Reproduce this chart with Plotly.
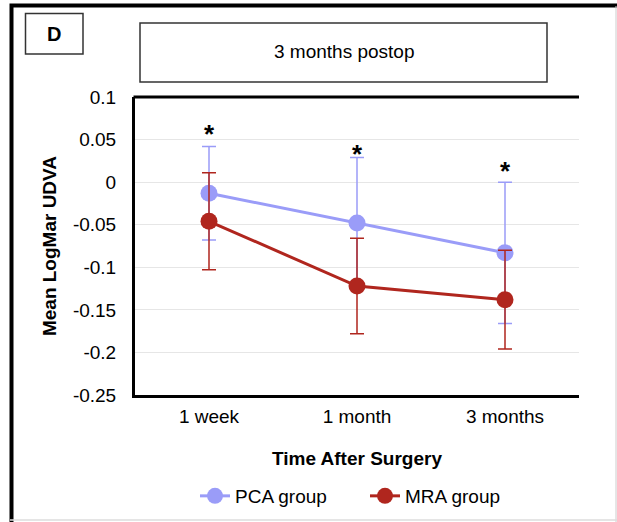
import plotly.graph_objects as go

# ---- data ----
time_points = ["1 week", "1 month", "3 months"]
pca_mean = [-0.013, -0.048, -0.083]
pca_sd = [0.055, 0.077, 0.083]
mra_mean = [-0.046, -0.122, -0.138]
mra_sd = [0.057, 0.056, 0.058]
sig_label_y = [0.062, 0.039, 0.019]
y_ticks = [0.1, 0.05, 0, -0.05, -0.1, -0.15, -0.2, -0.25]
y_tick_labels = ["0.1", "0.05", "0", "-0.05", "-0.1", "-0.15", "-0.2", "-0.25"]

PCA_COLOR = "#9a9cf8"
MRA_COLOR = "#b0261e"
FONT = "Liberation Sans, Arial, sans-serif"

W, H = 617, 522
PLOT_L, PLOT_R, PLOT_T, PLOT_B = 135, 579, 97, 395


def px(x):
    return x / W


def py(y):
    return 1 - y / H


fig = go.Figure()

fig.add_trace(go.Scatter(
    x=time_points, y=pca_mean, name="PCA group", mode="lines+markers",
    line=dict(color=PCA_COLOR, width=3),
    marker=dict(color=PCA_COLOR, size=17),
    error_y=dict(type="data", array=pca_sd, visible=True, color=PCA_COLOR,
                 thickness=1.5, width=7),
))
fig.add_trace(go.Scatter(
    x=time_points, y=mra_mean, name="MRA group", mode="lines+markers",
    line=dict(color=MRA_COLOR, width=3),
    marker=dict(color=MRA_COLOR, size=17),
    error_y=dict(type="data", array=mra_sd, visible=True, color=MRA_COLOR,
                 thickness=1.5, width=7),
))

# significance asterisks
for cat, yv in zip(time_points, sig_label_y):
    fig.add_annotation(x=cat, y=yv, yref="y", text="<b>*</b>", showarrow=False,
                       yanchor="middle", yshift=-5,
                       font=dict(family=FONT, size=26, color="black"))

shapes = []
# plot box top line
shapes.append(dict(type="line", xref="paper", yref="paper",
                   x0=px(PLOT_L - 1.5), x1=px(PLOT_R), y0=py(PLOT_T), y1=py(PLOT_T),
                   line=dict(color="black", width=3)))
# outer frame (thick black left/top, thin grey right/bottom)
frame_path = "M {:.5f},{:.5f} L {:.5f},{:.5f} L {:.5f},{:.5f}".format(
    px(11.5), py(522), px(11.5), py(5.5), px(617), py(5.5))
shapes.append(dict(type="path", xref="paper", yref="paper", path=frame_path,
                   line=dict(color="#000000", width=4), layer="below"))
shapes.append(dict(type="line", xref="paper", yref="paper", x0=px(616), x1=px(616),
                   y0=py(6), y1=py(522), line=dict(color="#cccccc", width=1)))
shapes.append(dict(type="line", xref="paper", yref="paper", x0=px(10), x1=px(617),
                   y0=py(520), y1=py(520), line=dict(color="#dddddd", width=1.5)))
# panel letter box
shapes.append(dict(type="rect", xref="paper", yref="paper", x0=px(25.5), x1=px(83),
                   y0=py(54), y1=py(13.5), line=dict(color="#333333", width=1.5)))
# title box
shapes.append(dict(type="rect", xref="paper", yref="paper", x0=px(140), x1=px(547),
                   y0=py(82), y1=py(23), line=dict(color="#333333", width=1.5)))
fig.update_layout(shapes=shapes)

fig.add_annotation(xref="paper", yref="paper", x=px(54), y=py(34), text="<b>D</b>",
                   xanchor="center", yanchor="middle",
                   showarrow=False, font=dict(family=FONT, size=20, color="black"))
fig.add_annotation(xref="paper", yref="paper", x=px(343.5), y=py(51), text="3 months postop",
                   xanchor="center", yanchor="middle",
                   showarrow=False, font=dict(family=FONT, size=19, color="black"))

fig.update_layout(
    width=W, height=H,
    margin=dict(l=0, r=0, t=0, b=0, pad=0, autoexpand=False),
    paper_bgcolor="white", plot_bgcolor="rgba(0,0,0,0)",
    font=dict(family=FONT, size=19, color="black"),
    showlegend=True,
    legend=dict(orientation="h", x=px(365), xanchor="center", y=py(496), yanchor="middle",
                font=dict(family=FONT, size=19), entrywidth=125, entrywidthmode="pixels",
                tracegroupgap=0, bgcolor="rgba(0,0,0,0)"),
    xaxis=dict(
        domain=[px(PLOT_L), px(PLOT_R)],
        showline=True, linecolor="black", linewidth=3, showgrid=False,
        ticks="outside", ticklen=2, tickcolor="white",
        tickfont=dict(family=FONT, size=19),
        title=dict(text="<b>Time After Surgery</b>", font=dict(family=FONT, size=19),
                   standoff=26),
        range=[-0.5, 2.5], fixedrange=True, automargin=False,
    ),
    yaxis=dict(
        domain=[py(PLOT_B), py(PLOT_T)],
        range=[-0.25, 0.1], tickvals=y_ticks, ticktext=y_tick_labels,
        showline=True, linecolor="black", linewidth=3,
        showgrid=True, gridcolor="#e6e6e6", gridwidth=1, zeroline=False,
        ticks="outside", ticklen=12, tickcolor="white",
        tickfont=dict(family=FONT, size=19),
        title=dict(text="<b>Mean LogMar UDVA</b>", font=dict(family=FONT, size=19),
                   standoff=12),
        automargin=False,
    ),
)

fig.write_html(
    "out.html", config={"displayModeBar": False},
    post_script=("document.documentElement.style.margin='0';"
                 "document.body.style.margin='0';document.body.style.padding='0';"
                 "document.body.style.overflow='hidden';window.scrollTo(0,0);"))
